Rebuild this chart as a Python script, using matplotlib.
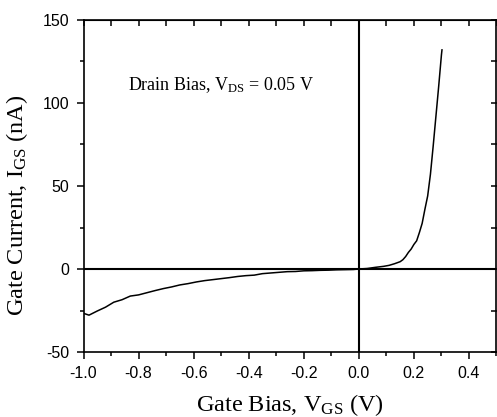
import matplotlib
matplotlib.use('Agg')
import matplotlib.pyplot as plt
from matplotlib.ticker import MultipleLocator, FormatStrFormatter

plt.rcParams['mathtext.fontset'] = 'custom'
plt.rcParams['mathtext.rm'] = 'Liberation Serif'
plt.rcParams['mathtext.it'] = 'Liberation Serif:italic'
plt.rcParams['axes.unicode_minus'] = False

# gate bias (V) and gate current (nA)
vgs = [-1.00, -0.98, -0.95, -0.92, -0.89, -0.86, -0.83, -0.80, -0.77, -0.74,
       -0.71, -0.68, -0.65, -0.62, -0.59, -0.56, -0.53, -0.50, -0.47, -0.44,
       -0.41, -0.38, -0.35, -0.32, -0.29, -0.26, -0.23, -0.20, -0.17, -0.14,
       -0.11, -0.08, -0.05, -0.02, 0.00, 0.03, 0.06, 0.09, 0.11, 0.13,
       0.15, 0.16, 0.17, 0.18, 0.19, 0.20, 0.21, 0.22, 0.23, 0.24,
       0.25, 0.26, 0.27, 0.28, 0.29, 0.30, 0.302]
igs = [-26.7, -27.8, -25.3, -23.0, -20.0, -18.5, -16.3, -15.6, -14.3, -13.0,
       -11.8, -10.8, -9.6, -8.8, -7.8, -7.0, -6.4, -5.8, -5.2, -4.5,
       -4.0, -3.7, -2.8, -2.4, -2.0, -1.6, -1.5, -1.1, -1.0, -0.8,
       -0.7, -0.5, -0.4, -0.3, 0.0, 0.3, 1.0, 1.6, 2.2, 3.2,
       4.4, 5.6, 7.5, 10.0, 12.0, 14.8, 17.0, 22.0, 27.5, 36.0,
       44.0, 57.0, 74.0, 92.0, 110.0, 129.0, 132.0]

xlabel = r'Gate Bias, V$_{\mathrm{GS}}$ (V)'
ylabel = r'Gate Current, I$_{\mathrm{GS}}$ (nA)'
note = r'Drain Bias, V$_{\mathrm{DS}}$ = 0.05 V'

W, H = 497, 417
fig = plt.figure(figsize=(W/100., H/100.), dpi=100)
ax = fig.add_axes([83.5/W, (H-352.)/H, 413./W, 332./H])

ax.plot(vgs, igs, color='k', lw=1.1)
ax.axhline(0, color='k', lw=1.5)
ax.axvline(0, color='k', lw=1.5)

ax.set_xlim(-1.0, 0.5)
ax.set_ylim(-50, 150)
ax.xaxis.set_major_locator(MultipleLocator(0.2))
ax.xaxis.set_minor_locator(MultipleLocator(0.1))
ax.yaxis.set_major_locator(MultipleLocator(50))
ax.yaxis.set_minor_locator(MultipleLocator(25))
ax.xaxis.set_major_formatter(FormatStrFormatter('%.1f'))
ax.tick_params(which='major', direction='out', length=5, width=1.1,
               labelsize=11.5, pad=5)
ax.tick_params(which='minor', direction='out', length=3, width=1.1)
for lab in ax.get_xticklabels() + ax.get_yticklabels():
    lab.set_family('Liberation Sans')
for s in ax.spines.values():
    s.set_linewidth(1.2)

# Origin style mirror ticks pointing inward on top and right
top = ax.secondary_xaxis('top')
top.xaxis.set_major_locator(MultipleLocator(0.1))
top.tick_params(direction='in', length=4, width=1.1, labeltop=False)
right = ax.secondary_yaxis('right')
right.yaxis.set_major_locator(MultipleLocator(25))
right.tick_params(direction='in', length=4, width=1.1, labelright=False)

ax.set_xlabel(xlabel, family='Liberation Serif', fontsize=17.5, va='top')
ax.xaxis.set_label_coords(0.5, -0.122)
ax.set_ylabel(ylabel, family='Liberation Serif', fontsize=17.5)
ax.yaxis.set_label_coords(-0.13, 0.443)

ax.text(-0.838, 108, note, family='Liberation Serif', fontsize=13,
        va='baseline')

fig.savefig('out.png', dpi=100)
